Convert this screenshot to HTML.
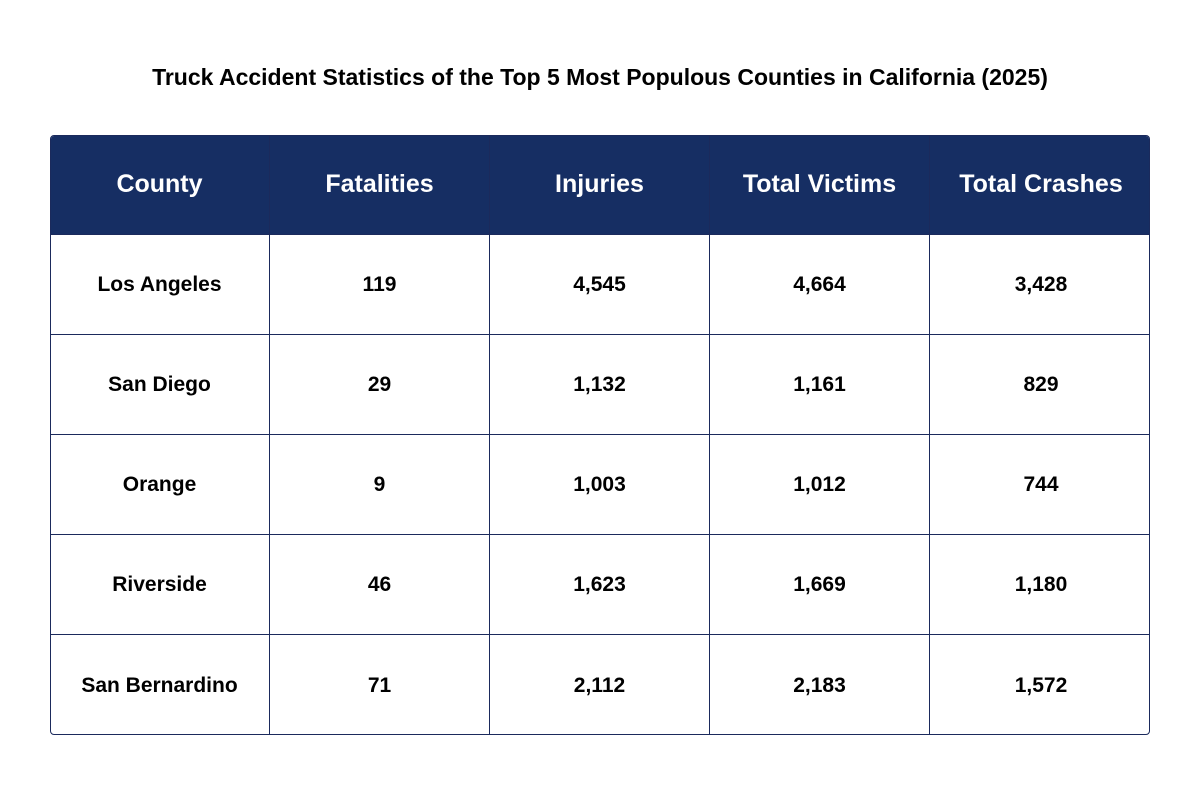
<!DOCTYPE html>
<html><head><meta charset="utf-8">
<style>
html,body{margin:0;padding:0;background:#fff;}
body{width:1200px;height:800px;position:relative;overflow:hidden;font-family:"Liberation Sans",Arial,sans-serif;}
#title{position:absolute;left:0;top:64px;width:1200px;text-align:center;font-weight:bold;font-size:23px;color:#000;}
#table{position:absolute;left:50px;top:135px;width:1100px;height:600px;border:1px solid #1b2a5c;border-radius:4px;overflow:hidden;box-sizing:border-box;}
.cell{position:absolute;box-sizing:border-box;display:flex;align-items:center;justify-content:center;font-weight:bold;font-size:21px;color:#000;border-right:1px solid #1b2a5c;border-bottom:1px solid #1b2a5c;}
.hdr{background:#162e63;color:#fff;font-size:25px;}
</style></head>
<body>
<div id="title">Truck Accident Statistics of the Top 5 Most Populous Counties in California (2025)</div>
<div id="table"></div>
<script>
const headers = ["County","Fatalities","Injuries","Total Victims","Total Crashes"];
const counties = ["Los Angeles","San Diego","Orange","Riverside","San Bernardino"];
const fatalities = ["119","29","9","46","71"];
const injuries = ["4,545","1,132","1,003","1,623","2,112"];
const totalVictims = ["4,664","1,161","1,012","1,669","2,183"];
const totalCrashes = ["3,428","829","744","1,180","1,572"];
const t = document.getElementById('table');
const colW = 220, rowH = 100;
function mk(text, c, r, hdr, name){
  const d = document.createElement('div');
  d.className = 'cell' + (hdr ? ' hdr' : '');
  d.style.left = (c*colW - 1) + 'px';
  d.style.top = (r*rowH - 1) + 'px';
  d.style.width = (colW + (c===4?2:0)) + 'px';
  d.style.height = (rowH + (r===5?2:0)) + 'px';
  if (c===4) d.style.borderRight='none';
  if (r===5) d.style.borderBottom='none';
  d.textContent = text;
  
  
  t.appendChild(d);
}
headers.forEach((h,i)=>mk(h,i,0,true,'header-'+h.toLowerCase().replace(/ /g,'-')));
const cols=[counties,fatalities,injuries,totalVictims,totalCrashes];
const colNames=['county','fatalities','injuries','total-victims','total-crashes'];
for(let r=0;r<counties.length;r++){
  for(let c=0;c<cols.length;c++){
    mk(cols[c][r], c, r+1, false, colNames[c]+'-cell-'+counties[r].toLowerCase().replace(/ /g,'-'));
  }
}
</script>
</body></html>
